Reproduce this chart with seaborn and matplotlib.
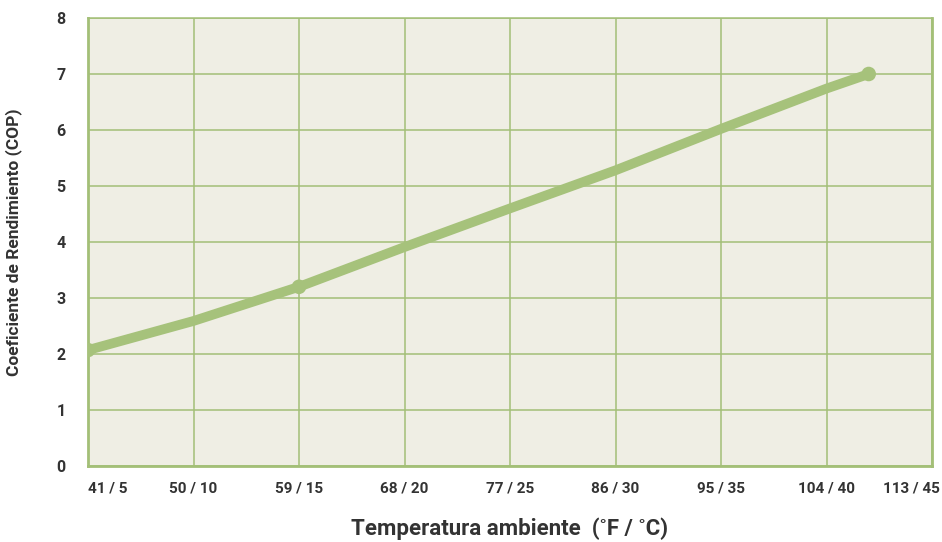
import matplotlib
matplotlib.use('Agg')
import matplotlib.pyplot as plt
import matplotlib.transforms as mtransforms
import seaborn as sns
import pandas as pd

# values (x in degrees Celsius)
curve_c = [5, 10, 15, 20, 25, 30, 35, 40, 42]
curve_cop = [2.07, 2.59, 3.20, 3.91, 4.60, 5.28, 6.02, 6.74, 7.00]
marker_c = [5, 15, 42]
marker_cop = [2.07, 3.20, 7.00]
tick_c = [5, 10, 15, 20, 25, 30, 35, 40, 45]
tick_labels = ['41 / 5', '50 / 10', '59 / 15', '68 / 20', '77 / 25',
               '86 / 30', '95 / 35', '104 / 40', '113 / 45']
y_ticks = [0, 1, 2, 3, 4, 5, 6, 7, 8]

GREEN = '#A6C27B'
GRID = '#A3BF77'
BG = '#EFEEE4'
TXT = '#333333'

sns.set_style('white')
plt.rcParams['font.family'] = ['Roboto', 'DejaVu Sans']

curve = pd.DataFrame({'c': curve_c, 'cop': curve_cop})
marks = pd.DataFrame({'c': marker_c, 'cop': marker_cop})

fig = plt.figure(figsize=(9.42, 5.42), dpi=100)
ax = fig.add_axes([88 / 942, 1 - 466 / 542, 844 / 942, 448 / 542])
ax.set_facecolor(BG)

sns.lineplot(data=curve, x='c', y='cop', ax=ax, color=GREEN, lw=7,
             solid_capstyle='round', zorder=3)
sns.scatterplot(data=marks, x='c', y='cop', ax=ax, color=GREEN, s=110,
                edgecolor='none', zorder=4)

ax.set_xlim(5, 45)
ax.set_ylim(0, 8)
ax.set_xticks(tick_c)
ax.set_xticklabels(tick_labels)
ax.set_yticks(y_ticks)
ax.grid(True, color=GRID, lw=1.1)
ax.set_axisbelow(True)

for side in ['left', 'bottom', 'right']:
    ax.spines[side].set_color(GRID)
    ax.spines[side].set_linewidth(2)
ax.spines['top'].set_color(GRID)
ax.spines['top'].set_linewidth(1.1)

ax.tick_params(axis='x', length=4, width=1.1, color=GRID, pad=7,
               labelsize=11, labelcolor=TXT)
ax.tick_params(axis='y', length=0, pad=16, labelsize=11.5, labelcolor=TXT)
for lab in ax.get_xticklabels() + ax.get_yticklabels():
    lab.set_fontweight('bold')

xlabs = ax.get_xticklabels()
xlabs[0].set_horizontalalignment('left')
xlabs[-1].set_horizontalalignment('right')
xlabs[-1].set_transform(xlabs[-1].get_transform() +
                        mtransforms.ScaledTranslation(8 / 100, 0, fig.dpi_scale_trans))

ax.set_xlabel('Temperatura ambiente  (˚F / ˚C)', fontsize=16, fontweight='bold',
              color=TXT, labelpad=16)
ax.set_ylabel('Coeficiente de Rendimiento (COP)', fontsize=12.5, fontweight='bold',
              color=TXT, labelpad=25)

fig.savefig('out.png', dpi=100)
